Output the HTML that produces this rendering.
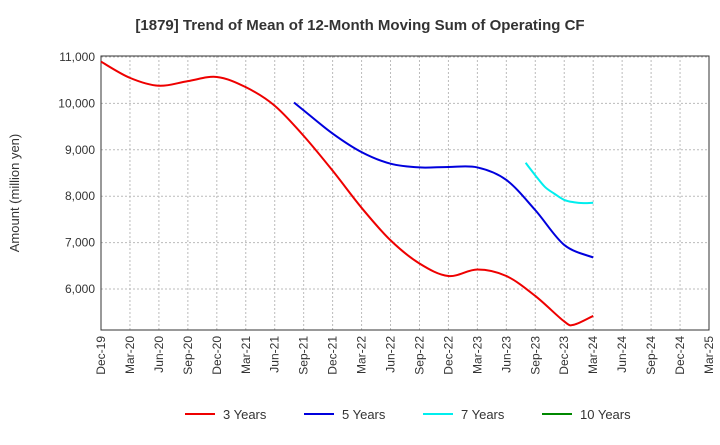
<!DOCTYPE html>
<html><head><meta charset="utf-8"><style>
body{margin:0;background:#fff;font-family:"Liberation Sans",Arial,sans-serif}
</style></head><body>
<svg id="c" width="720" height="440" xmlns="http://www.w3.org/2000/svg">
<text x="360" y="30" text-anchor="middle" font-size="15" font-weight="bold" fill="#333">[1879]  Trend of Mean of 12-Month Moving Sum of Operating CF</text>
<text transform="translate(19,193) rotate(-90)" text-anchor="middle" font-size="13" fill="#333">Amount (million yen)</text>
<g id="grid"></g><g id="axes"></g><g id="series"></g><g id="legend"></g>
</svg>
<script>
const xLabels=["Dec-19","Mar-20","Jun-20","Sep-20","Dec-20","Mar-21","Jun-21","Sep-21","Dec-21","Mar-22","Jun-22","Sep-22","Dec-22","Mar-23","Jun-23","Sep-23","Dec-23","Mar-24","Jun-24","Sep-24","Dec-24","Mar-25"];
const yTicks=[6000,7000,8000,9000,10000,11000];
// month offsets from Dec-19
const m3=[0,3,6,9,12,15,18,21,24,27,30,33,36,39,42,45,48,49,51];
const v3=[10900,10550,10380,10480,10570,10350,9950,9300,8550,7750,7050,6550,6280,6420,6280,5850,5300,5230,5420];
const m5=[20,21,24,27,30,33,36,39,42,45,48,51];
const v5=[10020,9850,9350,8950,8700,8620,8630,8620,8350,7700,6950,6680];
const m7=[44,45,46,47,48,49,50,51];
const v7=[8720,8450,8200,8050,7920,7870,7850,7860];
const L=101,R=709,T=56,B=330;
const X=m=>L+m*(R-L)/63;
const Y=v=>57+(11000-v)*(289-57)/5000;
const NS="http://www.w3.org/2000/svg";
function mk(t,a,p){const e=document.createElementNS(NS,t);for(const k in a)e.setAttribute(k,a[k]);p.appendChild(e);return e;}
const g=document.getElementById('grid'),ax=document.getElementById('axes'),s=document.getElementById('series'),lg=document.getElementById('legend');
yTicks.forEach(v=>{const l=mk('line',{x1:L,x2:R,y1:Y(v),y2:Y(v),stroke:'#bbb','stroke-dasharray':'2,2'},g);

const t=mk('text',{x:L-6,y:Y(v)+4,'text-anchor':'end','font-size':12,fill:'#333'},ax);t.textContent=v.toLocaleString('en-US');
});
xLabels.forEach((lab,i)=>{const x=X(i*3);
if(i>0&&i<xLabels.length-1){const l=mk('line',{x1:x,x2:x,y1:T,y2:B,stroke:'#bbb','stroke-dasharray':'2,2'},g);
}
const t=mk('text',{transform:`translate(${x+4},${B+6}) rotate(-90)`,'text-anchor':'end','font-size':12,fill:'#333'},ax);t.textContent=lab;
});
const fr=mk('rect',{x:L,y:T,width:R-L,height:B-T,fill:'none',stroke:'#333'},ax);

function path(ms,vs){const p=ms.map((m,i)=>[X(m),Y(vs[i])]);let d=`M${p[0][0]},${p[0][1]}`;
for(let i=0;i<p.length-1;i++){const p0=p[i-1]||p[i],p1=p[i],p2=p[i+1],p3=p[i+2]||p2;
d+=` C${p1[0]+(p2[0]-p0[0])/6},${p1[1]+(p2[1]-p0[1])/6} ${p2[0]-(p3[0]-p1[0])/6},${p2[1]-(p3[1]-p1[1])/6} ${p2[0]},${p2[1]}`;}return d;}
[[m3,v3,'#ee0000','3 Years','series-3-years'],[m5,v5,'#0000dd','5 Years','series-5-years'],[m7,v7,'#00eeee','7 Years','series-7-years']].forEach(([m,v,c,n,dn])=>{
const p=mk('path',{d:path(m,v),fill:'none',stroke:c,'stroke-width':2},s);});
[['#ee0000','3 Years',185],['#0000dd','5 Years',304],['#00eeee','7 Years',423],['#008800','10 Years',542]].forEach(([c,n,x])=>{
const e=mk('g',{},lg);
mk('line',{x1:x,x2:x+30,y1:414,y2:414,stroke:c,'stroke-width':2},e);
const t=mk('text',{x:x+38,y:419,'font-size':13,fill:'#333'},e);t.textContent=n;});
</script>
</body></html>
